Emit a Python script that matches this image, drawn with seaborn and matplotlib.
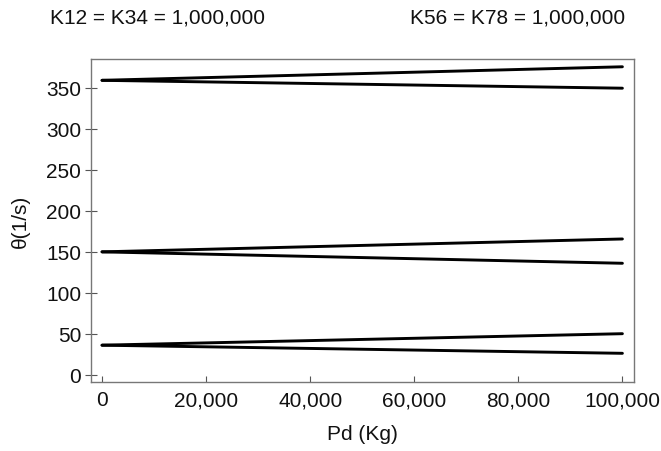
import matplotlib
matplotlib.use("Agg")
import matplotlib.pyplot as plt
import matplotlib.ticker as mticker
import numpy as np
import pandas as pd
import seaborn as sns

# Load range Pd (Kg)
pd_load = [0, 100000]

# Natural frequencies theta (1/s): three modes, each splitting into two branches
mode1_upper = [36.3, 50.3]
mode1_lower = [36.3, 26.4]
mode2_upper = [150.0, 165.7]
mode2_lower = [150.0, 136.1]
mode3_upper = [359.0, 375.5]
mode3_lower = [359.0, 349.4]

x_ticks = [0, 20000, 40000, 60000, 80000, 100000]
y_ticks = [0, 50, 100, 150, 200, 250, 300, 350]

curves = {
    "m1u": mode1_upper, "m1l": mode1_lower,
    "m2u": mode2_upper, "m2l": mode2_lower,
    "m3u": mode3_upper, "m3l": mode3_lower,
}
rows = []
for name, vals in curves.items():
    for x, y in zip(pd_load, vals):
        rows.append({"curve": name, "Pd": x, "theta": y})
df = pd.DataFrame(rows)

sns.set_theme(style="white")
plt.rcParams["font.family"] = ["Liberation Sans", "DejaVu Sans"]

FS = 15
TXT = "#111111"

fig = plt.figure(figsize=(6.61, 4.52), dpi=100)
ax = fig.add_axes([0.1377, 0.1533, 0.821, 0.714])

sns.lineplot(data=df, x="Pd", y="theta", units="curve", estimator=None,
             color="black", linewidth=2.1, ax=ax, legend=False)

ax.set_xlim(-2114, 102170)
ax.set_ylim(-8.2, 385)
ax.set_xticks(x_ticks)
ax.set_yticks(y_ticks)
ax.xaxis.set_major_formatter(mticker.FuncFormatter(lambda v, p: f"{int(v):,}"))

for s in ax.spines.values():
    s.set_color("#777777")
    s.set_linewidth(1.0)
    s.set_visible(True)

ax.tick_params(axis="x", direction="in", length=4.5, width=0.8, color="#555555",
               labelsize=FS, pad=6, labelcolor=TXT, bottom=True)
ax.tick_params(axis="y", direction="inout", length=8, width=0.8, color="#555555",
               labelsize=FS, pad=3, labelcolor=TXT, left=True)

ax.set_xlabel("Pd (Kg)", fontsize=FS, color=TXT, labelpad=11)
ax.set_ylabel("θ(1/s)", fontsize=FS, color=TXT, labelpad=12)

fig.text(158 / 661, 1 - 18 / 452, "K12 = K34 = 1,000,000", ha="center", va="center",
         fontsize=FS, color=TXT)
fig.text(518 / 661, 1 - 18 / 452, "K56 = K78 = 1,000,000", ha="center", va="center",
         fontsize=FS, color=TXT)

fig.savefig("out.png", dpi=100)
